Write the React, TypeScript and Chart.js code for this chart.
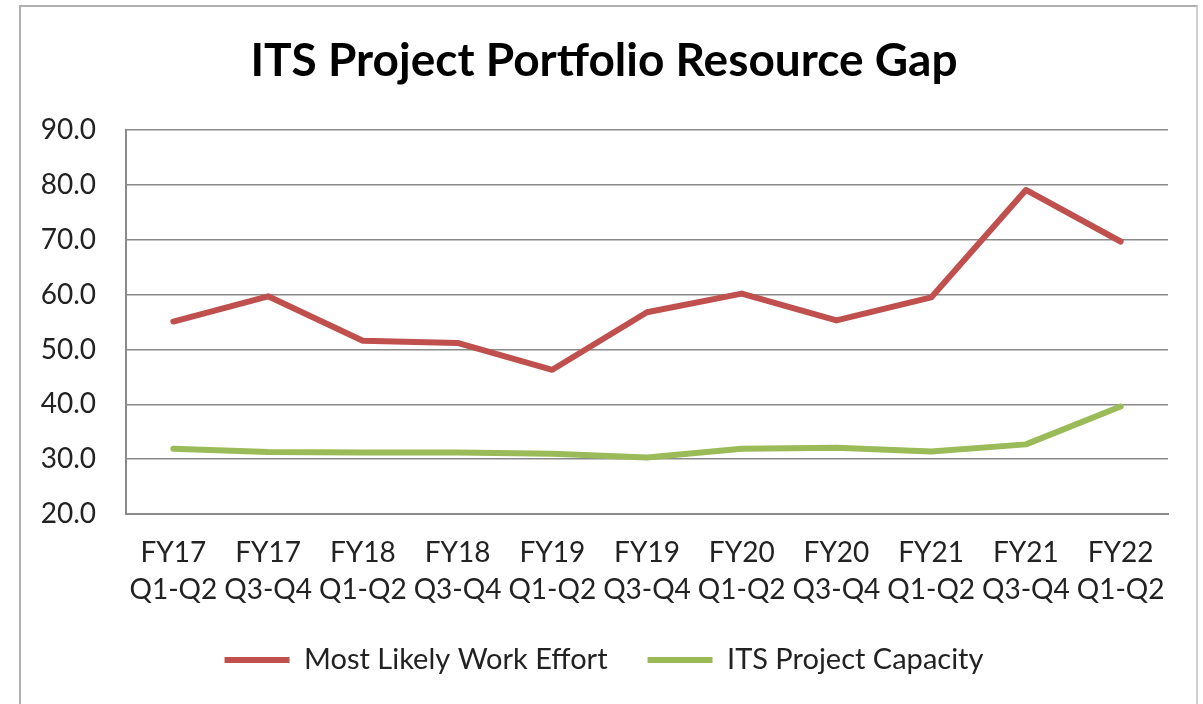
import React, { useEffect, useRef } from 'react';
import { Chart, registerables } from 'chart.js';

Chart.register(...registerables);

const categories: string[][] = [
  ['FY17', 'Q1-Q2'], ['FY17', 'Q3-Q4'], ['FY18', 'Q1-Q2'], ['FY18', 'Q3-Q4'],
  ['FY19', 'Q1-Q2'], ['FY19', 'Q3-Q4'], ['FY20', 'Q1-Q2'], ['FY20', 'Q3-Q4'],
  ['FY21', 'Q1-Q2'], ['FY21', 'Q3-Q4'], ['FY22', 'Q1-Q2'],
];
const workEffort = [55.1, 59.7, 51.6, 51.2, 46.3, 56.8, 60.2, 55.3, 59.5, 79.1, 69.7];
const capacity = [31.9, 31.3, 31.2, 31.2, 31.0, 30.3, 31.9, 32.1, 31.4, 32.7, 39.6];
const seriesNames = ['Most Likely Work Effort', 'ITS Project Capacity'];
const yMin = 20;
const yMax = 90;
const yStep = 10;
const titleText = 'ITS Project Portfolio Resource Gap';

const FONT = 'Lato, "Open Sans", sans-serif';

export default function App() {
  const ref = useRef<HTMLCanvasElement | null>(null);

  useEffect(() => {
    if (!ref.current) return;
    const chart = new Chart(ref.current, {
      type: 'line',
      data: {
        labels: categories,
        datasets: [
          {
            label: seriesNames[0],
            data: workEffort,
            borderColor: '#C0504D',
            backgroundColor: '#C0504D',
            borderWidth: 6,
            borderCapStyle: 'round',
            borderJoinStyle: 'round',
            pointRadius: 0,
            tension: 0,
          },
          {
            label: seriesNames[1],
            data: capacity,
            borderColor: '#9BBB59',
            backgroundColor: '#9BBB59',
            borderWidth: 6,
            borderCapStyle: 'round',
            borderJoinStyle: 'round',
            pointRadius: 0,
            tension: 0,
          },
        ],
      },
      options: {
        responsive: false,
        animation: false,
        layout: { padding: { left: 19, right: 28, top: 0, bottom: 19.5 } },
        plugins: {
          title: {
            display: true,
            text: titleText,
            color: '#000',
            font: { family: FONT, size: 46, weight: 'bold', lineHeight: 1.2 },
            padding: { top: 27, bottom: 41 },
          },
          legend: {
            position: 'bottom',
            labels: {
              usePointStyle: true,
              pointStyle: 'line',
              pointStyleWidth: 65,
              boxHeight: 6,
              padding: 40,
              color: '#222',
              font: { family: FONT, size: 29 },
            },
          },
          tooltip: { enabled: false },
        },
        scales: {
          x: {
            offset: true,
            grid: { display: false, drawTicks: false },
            border: { display: true, color: '#8a8a8a', width: 2 },
            ticks: {
              color: '#222',
              font: { family: FONT, size: 28, lineHeight: 1.32 },
              padding: 20.5,
              maxRotation: 0,
              autoSkip: false,
            },
            afterFit: (s: any) => { s.height = 91.5; },
          },
          y: {
            min: yMin,
            max: yMax,
            grid: { color: '#8a8a8a', lineWidth: 1.5, drawTicks: false },
            border: { display: true, color: '#8a8a8a', width: 2 },
            ticks: {
              stepSize: yStep,
              color: '#222',
              padding: 30,
              font: { family: FONT, size: 28 },
              callback: (v: any) => Number(v).toFixed(1),
            },
            afterFit: (s: any) => { s.width = 86; },
          },
        },
      },
    });
    return () => chart.destroy();
  }, []);

  return (
    <div
      style={{
        position: 'absolute',
        left: 19,
        top: 5,
        width: 1179,
        height: 699,
        borderTop: '2px solid #b0b0b0',
        borderLeft: '2px solid #b0b0b0',
        borderRight: '2px solid #d0d0d0',
        boxSizing: 'border-box',
        background: '#fff',
        overflow: 'hidden',
      }}
    >
      <canvas ref={ref} width={1175} height={697} style={{ display: 'block' }} />
    </div>
  );
}
